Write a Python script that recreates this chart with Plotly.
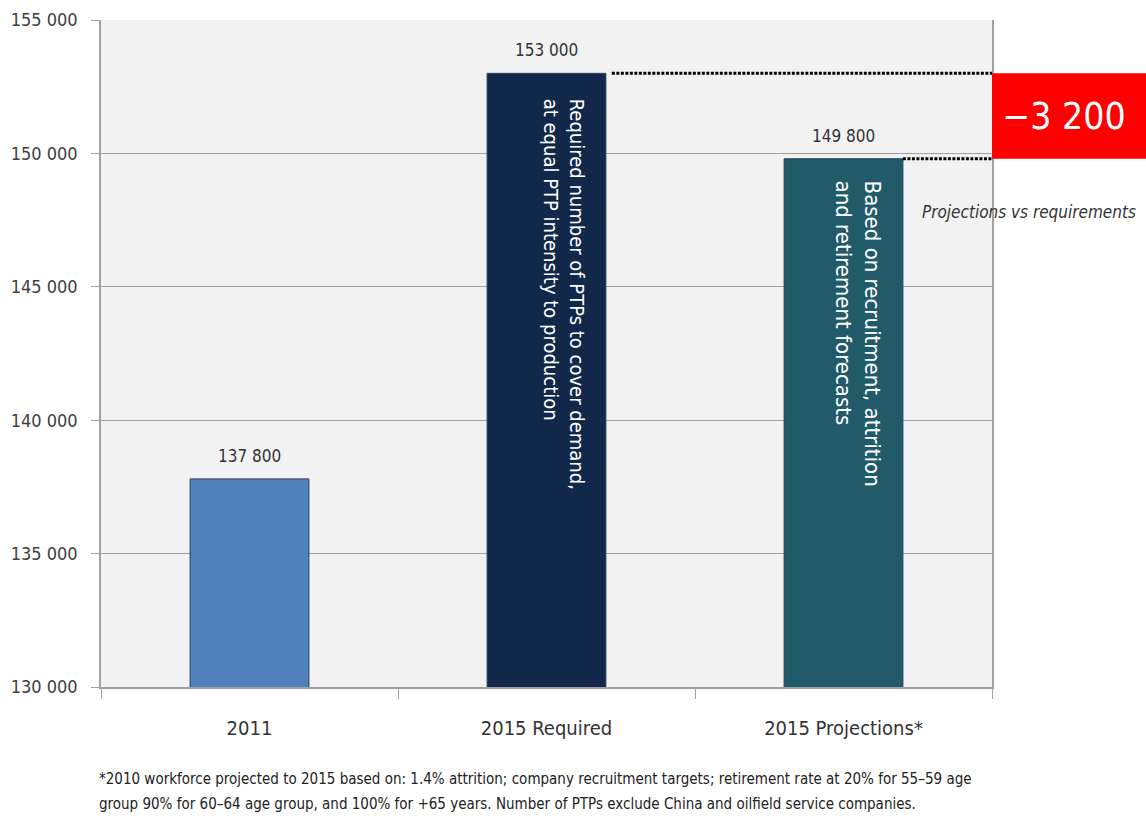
import plotly.graph_objects as go

# Data
categories = ["2011", "2015 Required", "2015 Projections*"]
ptp_counts = [137800, 153000, 149800]
bar_colors = ["#4F81BD", "#12284A", "#215A68"]
bar_notes = [
    "",
    "Required number of PTPs to cover demand,<br>at equal PTP intensity to production",
    "Based on recruitment, attrition<br>and retirement forecasts",
]
y_ticks = [130000, 135000, 140000, 145000, 150000, 155000]
footnote_lines = [
    "*2010 workforce projected to 2015 based on: 1.4% attrition; company recruitment targets; "
    "retirement rate at 20% for 55–59 age",
    "group 90% for 60–64 age group, and 100% for +65 years. Number of PTPs exclude China and "
    "oilfield service companies.",
]

required = ptp_counts[1]
projected = ptp_counts[2]
gap = required - projected

FONT = "Liberation Sans Narrow, Arial Narrow, DejaVu Sans Condensed, sans-serif"
BAR_W = 0.4


def spaced(n):
    return f"{n:,d}".replace(",", " ")


fig = go.Figure()
fig.add_trace(go.Bar(
    x=categories,
    y=ptp_counts,
    width=BAR_W,
    marker=dict(color=bar_colors, line=dict(color="#2B3F5C", width=1)),
    hoverinfo="skip",
))

# Value labels above the bars (category positions given by index)
for idx, val in enumerate(ptp_counts):
    fig.add_annotation(
        x=idx, xref="x", y=val, yref="y", yanchor="middle", yshift=23,
        text=spaced(val), showarrow=False,
        font=dict(family=FONT, size=17, color="#333333"),
    )

# Rotated explanatory text inside the two 2015 bars
note_style = {1: (17, 0.885, 20), 2: (14, 0.763, 22)}
for i, (xs, ytop, fs) in note_style.items():
    fig.add_annotation(
        x=i, xref="x", xshift=xs,
        y=ytop, yref="paper", yanchor="top",
        text=bar_notes[i], textangle=90, align="left",
        showarrow=False,
        font=dict(family=FONT, size=fs, color="white"),
    )

# Dotted connectors from the bar tops to the gap box
dots = dict(color="black", width=3, dash="3px,1.5px")
fig.add_shape(type="line", xref="x", yref="y",
              x0=1 + BAR_W / 2 + 0.02, x1=2.5, y0=required, y1=required, line=dots)
fig.add_shape(type="line", xref="x", yref="y",
              x0=2 + BAR_W / 2, x1=2.5, y0=projected, y1=projected, line=dots)

# Gap box
fig.add_shape(type="rect", xref="paper", yref="y",
              x0=1.0, x1=1.18, y0=projected, y1=required,
              fillcolor="#FF0000", line=dict(width=0), layer="above")
fig.add_annotation(
    x=1.0813, xref="paper", xanchor="center", width=150,
    y=(required + projected) / 2, yref="y",
    text="−" + spaced(gap),
    showarrow=False, font=dict(family=FONT, size=37, color="white"),
)
fig.add_annotation(
    x=0.919, xref="paper", xanchor="left", y=0.73, yref="paper",
    text="<i>Projections vs requirements</i>", showarrow=False,
    font=dict(family=FONT, size=17, color="#333333"),
)

# Footnote
for k, line in enumerate(footnote_lines):
    fig.add_annotation(
        x=-0.0045, xref="paper", xanchor="left",
        y=[-0.1544, -0.1919][k], yref="paper",
        text=line, showarrow=False,
        font=dict(family=FONT, size=15, color="#222222"),
    )

fig.update_layout(
    width=1146, height=837,
    margin=dict(l=101, r=154, t=20, b=150, autoexpand=False),
    paper_bgcolor="white",
    plot_bgcolor="#F2F2F2",
    separators=". ",
    showlegend=False,
    font=dict(family=FONT, color="#404040"),
)
fig.update_xaxes(
    type="category", range=[-0.5, 2.5], automargin=False,
    showline=True, linecolor="#A0A0A0", linewidth=1.5,
    ticks="outside", tickson="boundaries", ticklen=10, tickcolor="#A0A0A0",
    tickfont=dict(family=FONT, size=20, color="#333333"),
    ticklabelstandoff=22,
    showgrid=False,
)
fig.update_yaxes(
    range=[130000, 155000], tickvals=y_ticks, tickformat=",d", automargin=False,
    showline=True, mirror=True, linecolor="#A0A0A0", linewidth=1.5,
    ticks="outside", ticklen=8, tickcolor="#A0A0A0",
    showgrid=True, gridcolor="#A0A0A0", gridwidth=1,
    tickfont=dict(family=FONT, size=18, color="#404040"),
    ticklabelstandoff=10,
    zeroline=False,
)

fig.write_html("out.html")
